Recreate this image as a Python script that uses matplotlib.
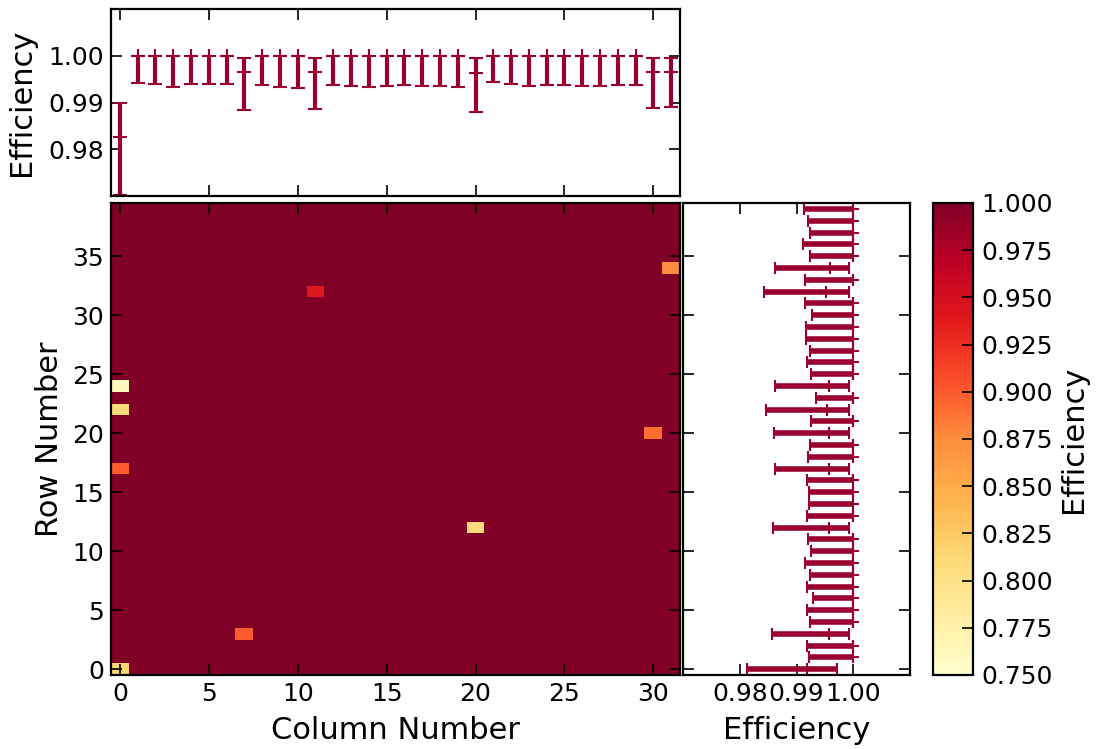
import numpy as np
import matplotlib
matplotlib.use("Agg")
import matplotlib.pyplot as plt

# ---------------- data ----------------
n_cols = 32
n_rows = 40

# bad pixels (column, row, efficiency)
bad_cols = [0, 0, 0, 0, 7, 11, 20, 30, 31]
bad_rows = [0, 17, 22, 24, 3, 32, 12, 20, 34]
bad_eff = [0.815, 0.900, 0.810, 0.760, 0.900, 0.940, 0.810, 0.890, 0.875]

# per-column efficiency (top panel): centre, lower bound, upper bound
col_eff = [0.98254, 1.0, 1.0, 1.0, 1.0, 1.0, 1.0, 0.99662, 1.0, 1.0, 1.0,
           0.99662, 1.0, 1.0, 1.0, 1.0, 1.0, 1.0, 1.0, 1.0, 0.99641,
           1.0, 1.0, 1.0, 1.0, 1.0, 1.0, 1.0, 1.0, 1.0, 0.99662, 0.99662]
col_low = [0.9703, 0.99415, 0.99401, 0.99331, 0.99401, 0.99401, 0.99401,
           0.98838, 0.99366, 0.99331, 0.99310, 0.98852, 0.99366, 0.99345,
           0.99331, 0.99345, 0.99366, 0.99345, 0.99345, 0.99331, 0.98796,
           0.99430, 0.99401, 0.99359, 0.99380, 0.99380, 0.99359, 0.99359,
           0.99366, 0.99366, 0.98873, 0.98908]
col_high = [0.98993, 1.0, 1.0, 1.0, 1.0, 1.0, 1.0, 0.99944, 1.0, 1.0, 1.0,
            0.99944, 1.0, 1.0, 1.0, 1.0, 1.0, 1.0, 1.0, 1.0, 0.99944,
            1.0, 1.0, 1.0, 1.0, 1.0, 1.0, 1.0, 1.0, 1.0, 0.99944, 0.99944]

# per-row efficiency (right panel): centre, lower bound, upper bound (rows 0..39)
row_eff = [0.99183, 1.0, 1.0, 0.99565, 1.0, 1.0, 1.0, 1.0, 1.0, 1.0,
           1.0, 1.0, 0.99577, 1.0, 1.0, 1.0, 1.0, 0.99577, 1.0, 1.0,
           0.99577, 1.0, 0.99530, 1.0, 0.99577, 1.0, 1.0, 1.0, 1.0, 1.0,
           1.0, 1.0, 0.99524, 1.0, 0.99588, 1.0, 1.0, 1.0, 1.0, 1.0]
row_low = [0.98119, 0.99218, 0.99177, 0.98560, 0.99236, 0.99189, 0.99295,
           0.99189, 0.99236, 0.99153, 0.99253, 0.99206, 0.98583, 0.99189,
           0.99229, 0.99223, 0.99189, 0.98613, 0.99206, 0.99236, 0.98601,
           0.99248, 0.98460, 0.99342, 0.98613, 0.99248, 0.99189, 0.99236,
           0.99171, 0.99159, 0.99271, 0.99153, 0.98436, 0.99142, 0.98624,
           0.99236, 0.99118, 0.99236, 0.99206, 0.99124]
row_high = [0.99712, 1.0, 1.0, 0.99929, 1.0, 1.0, 1.0, 1.0, 1.0, 1.0,
            1.0, 1.0, 0.99929, 1.0, 1.0, 1.0, 1.0, 0.99929, 1.0, 1.0,
            0.99929, 1.0, 0.99918, 1.0, 0.99929, 1.0, 1.0, 1.0, 1.0, 1.0,
            1.0, 1.0, 0.99918, 1.0, 0.99929, 1.0, 1.0, 1.0, 1.0, 1.0]

col_ticks = [0, 5, 10, 15, 20, 25, 30]
row_ticks = [0, 5, 10, 15, 20, 25, 30, 35]
eff_ticks = [0.98, 0.99, 1.00]
eff_tick_labels = ["0.98", "0.99", "1.00"]
cbar_ticks = [0.75, 0.775, 0.80, 0.825, 0.85, 0.875, 0.90, 0.925, 0.95, 0.975, 1.0]

# ---------------- figure ----------------
plt.rcParams['font.family'] = ['DejaVu Sans']
TICK_FS = 18
LABEL_FS = 22
BAR_COLOR = '#990030'

fig = plt.figure(figsize=(10.96, 7.49), dpi=100)
W, H = 1096.0, 749.0

def px_axes(x0, y0, x1, y1):
    return fig.add_axes([x0 / W, 1 - y1 / H, (x1 - x0) / W, (y1 - y0) / H])

ax_main = px_axes(111, 203, 680, 675)
ax_top = px_axes(111, 9, 680, 196)
ax_right = px_axes(683, 203, 910, 675)
ax_cb = px_axes(933, 203, 973, 675)

def style(ax):
    ax.tick_params(direction='in', top=True, right=True, length=8, width=1.2,
                   labelsize=TICK_FS, pad=5)
    for s in ax.spines.values():
        s.set_linewidth(1.6)

# heatmap
grid = np.ones((n_rows, n_cols))
for c, r, e in zip(bad_cols, bad_rows, bad_eff):
    grid[r, c] = e
mesh = ax_main.pcolormesh(np.arange(n_cols + 1) - 0.5, np.arange(n_rows + 1) - 0.5,
                          grid, cmap='YlOrRd', vmin=0.75, vmax=1.0)
ax_main.set_xlim(-0.5, n_cols - 0.5)
ax_main.set_ylim(-0.5, n_rows - 0.5)
ax_main.set_xticks(col_ticks)
ax_main.set_yticks(row_ticks)
ax_main.set_xlabel("Column Number", fontsize=LABEL_FS, labelpad=7)
ax_main.set_ylabel("Row Number", fontsize=LABEL_FS, labelpad=6)
style(ax_main)

# top panel
cols = np.arange(n_cols)
ce = np.array(col_eff)
ax_top.errorbar(cols, ce, yerr=[ce - np.array(col_low), np.array(col_high) - ce],
                fmt='+', color=BAR_COLOR, ecolor=BAR_COLOR, elinewidth=3,
                capsize=5, capthick=2, markersize=10, markeredgewidth=1.5)
ax_top.set_xlim(-0.5, n_cols - 0.5)
ax_top.set_ylim(0.97, 1.01)
ax_top.set_xticks(col_ticks)
ax_top.set_xticklabels([])
ax_top.set_yticks(eff_ticks)
ax_top.set_yticklabels(eff_tick_labels)
ax_top.set_ylabel("Efficiency", fontsize=LABEL_FS, labelpad=9)
style(ax_top)

# right panel
rows = np.arange(n_rows)
re_ = np.array(row_eff)
ax_right.errorbar(re_, rows, xerr=[re_ - np.array(row_low), np.array(row_high) - re_],
                  fmt='+', color=BAR_COLOR, ecolor=BAR_COLOR, elinewidth=4,
                  capsize=4, capthick=2, markersize=8, markeredgewidth=1.5)
ax_right.set_ylim(-0.5, n_rows - 0.5)
ax_right.set_xlim(0.97, 1.01)
ax_right.set_yticks(row_ticks)
ax_right.set_yticklabels([])
ax_right.set_xticks(eff_ticks)
ax_right.set_xticklabels(eff_tick_labels)
ax_right.set_xlabel("Efficiency", fontsize=LABEL_FS, labelpad=7)
style(ax_right)

# colorbar
cb = fig.colorbar(mesh, cax=ax_cb, ticks=cbar_ticks)
cb.ax.set_yticklabels(["%.3f" % t for t in cbar_ticks])
cb.ax.tick_params(direction='in', length=8, width=1.2, labelsize=TICK_FS, pad=6)
cb.outline.set_linewidth(1.6)
cb.set_label("Efficiency", fontsize=LABEL_FS, labelpad=4)

fig.savefig("out.png", dpi=100)
